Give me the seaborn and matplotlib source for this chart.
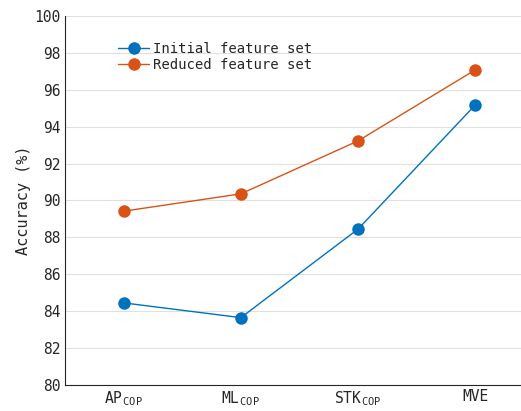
import matplotlib
matplotlib.use("Agg")
import matplotlib.pyplot as plt
import seaborn as sns
import pandas as pd

categories = [r"AP$_{\,\mathrm{COP}}$", r"ML$_{\,\mathrm{COP}}$", r"STK$_{\,\mathrm{COP}}$", "MVE"]
initial = [84.45, 83.65, 88.45, 95.18]
reduced = [89.42, 90.36, 93.23, 97.08]
series_names = ["Initial feature set", "Reduced feature set"]
colors = ["#0072BD", "#D95319"]
yticks = list(range(80, 101, 2))

sns.set_style("white")
plt.rcParams["font.family"] = ["DejaVu Sans Mono"]
plt.rcParams["mathtext.fontset"] = "custom"
plt.rcParams["mathtext.rm"] = "DejaVu Sans Mono"
plt.rcParams["mathtext.it"] = "DejaVu Sans Mono"

df = pd.DataFrame({
    "x": list(range(len(categories))) * 2,
    "acc": initial + reduced,
    "series": [series_names[0]] * len(categories) + [series_names[1]] * len(categories),
})

fig = plt.figure(figsize=(5.21, 4.11), dpi=100)
ax = fig.add_axes([0.1248, 0.0633, 0.8752, 0.8978])
sns.lineplot(data=df, x="x", y="acc", hue="series", palette=colors, marker="o",
             markersize=9, markeredgewidth=0, linewidth=1.0, ax=ax)

ax.set_xlim(-0.5, 3.39)
ax.set_ylim(80, 100)
ax.set_yticks(yticks)
ax.set_xticks(range(len(categories)))
ax.set_xticklabels(categories)
ax.set_xlabel("")
ax.set_ylabel("Accuracy (%)", fontsize=11, color="#262626", labelpad=2.5)
ax.grid(axis="y", color="#e0e0e0", linewidth=0.8)
ax.set_axisbelow(True)
for s in ["top", "right"]:
    ax.spines[s].set_visible(False)
for s in ["left", "bottom"]:
    ax.spines[s].set_color("#262626")
    ax.spines[s].set_linewidth(0.8)
ax.tick_params(axis="both", direction="in", length=4, width=0.8, colors="#262626",
               labelsize=10.5, labelcolor="#262626")
ax.tick_params(axis="x", pad=3)
ax.tick_params(axis="y", pad=3)
leg = ax.legend(loc="upper left", bbox_to_anchor=(0.105, 0.945), frameon=False,
                fontsize=10, handlelength=2.2, handletextpad=0.3, labelspacing=0.12,
                borderaxespad=0)
fig.savefig("out.png", dpi=100)
